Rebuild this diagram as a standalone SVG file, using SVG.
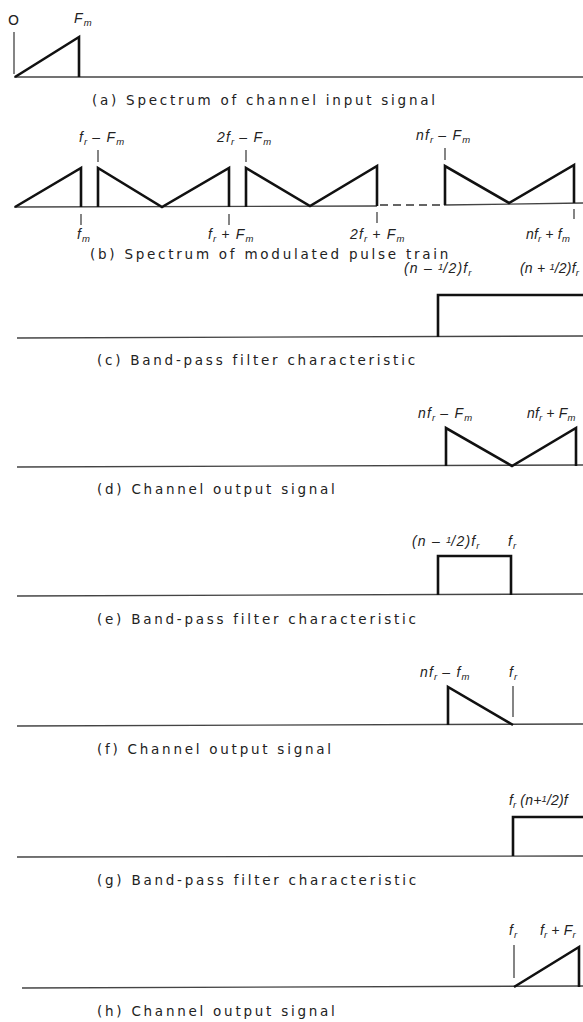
<svg xmlns="http://www.w3.org/2000/svg" width="583" height="1022" viewBox="0 0 583 1022">
<style>
.base{stroke:#444;stroke-width:1.3;fill:none}
.shape{stroke:#111;stroke-width:2.6;fill:none;stroke-linejoin:miter}
.tick{stroke:#333;stroke-width:1.2;fill:none}
.dash{stroke:#333;stroke-width:1.3;stroke-dasharray:8,5;fill:none}
.cap{font-family:"DejaVu Sans",sans-serif;font-size:13.5px;letter-spacing:2.75px;fill:#222}
.lab{font-family:"Liberation Sans",sans-serif;font-style:italic;font-size:14px;letter-spacing:1.2px;fill:#222}
.edge{letter-spacing:0.2px}
.sub{font-size:9.5px;letter-spacing:0}
</style>
<rect width="583" height="1022" fill="#fff"/>

<g id="panel-a">
<line class="base" x1="14" y1="77" x2="583" y2="77"/>
<line class="tick" x1="14" y1="32" x2="14" y2="74"/>
<path class="shape" d="M15,77 L79,37 L79,77"/>
<text x="8" y="25" style="font-family:'DejaVu Sans',sans-serif;font-size:14px;fill:#222">O</text>
<text class="lab" x="74" y="23">F<tspan class="sub" dy="3">m</tspan></text>
<text class="cap" x="92" y="105">(a) Spectrum of channel input signal</text>
</g>

<g id="panel-b">
<line class="base" x1="14" y1="207" x2="377" y2="206"/>
<line class="dash" x1="380" y1="205" x2="442" y2="205"/>
<line class="base" x1="444" y1="205" x2="583" y2="203"/>
<path class="shape" d="M15,207 L81,168 L81,207"/>
<path class="shape" d="M98,207 L98,168 L162,207 L229,168 L229,207"/>
<path class="shape" d="M246,207 L246,168 L310,206 L377,166 L377,206"/>
<path class="shape" d="M445,205 L445,166 L509,203 L574,165 L574,203"/>
<line class="tick" x1="98" y1="150" x2="98" y2="162"/>
<line class="tick" x1="246" y1="150" x2="246" y2="162"/>
<line class="tick" x1="445" y1="148" x2="445" y2="160"/>
<line class="tick" x1="81" y1="214" x2="81" y2="225"/>
<line class="tick" x1="229" y1="214" x2="229" y2="225"/>
<line class="tick" x1="377" y1="212" x2="377" y2="223"/>
<line class="tick" x1="574" y1="209" x2="574" y2="219"/>
<text class="lab" x="79" y="142">f<tspan class="sub" dy="3">r</tspan><tspan dy="-3"> – F</tspan><tspan class="sub" dy="3">m</tspan></text>
<text class="lab" x="217" y="142">2f<tspan class="sub" dy="3">r</tspan><tspan dy="-3"> – F</tspan><tspan class="sub" dy="3">m</tspan></text>
<text class="lab" x="416" y="140">nf<tspan class="sub" dy="3">r</tspan><tspan dy="-3"> – F</tspan><tspan class="sub" dy="3">m</tspan></text>
<text class="lab" x="77" y="239">f<tspan class="sub" dy="3">m</tspan></text>
<text class="lab" x="208" y="239">f<tspan class="sub" dy="3">r</tspan><tspan dy="-3"> + F</tspan><tspan class="sub" dy="3">m</tspan></text>
<text class="lab" x="350" y="239">2f<tspan class="sub" dy="3">r</tspan><tspan dy="-3"> + F</tspan><tspan class="sub" dy="3">m</tspan></text>
<text class="lab edge" x="526" y="239">nf<tspan class="sub" dy="3">r</tspan><tspan dy="-3"> + f</tspan><tspan class="sub" dy="3">m</tspan></text>
<text class="cap" x="90" y="259">(b) Spectrum of modulated pulse train</text>
</g>

<g id="panel-c">
<line class="base" x1="17" y1="338" x2="583" y2="336"/>
<path class="shape" d="M438,337 L438,295 L583,295"/>
<text class="lab" x="404" y="273">(n – <tspan class="sub" dy="-3">1</tspan><tspan dy="3">/2)f</tspan><tspan class="sub" dy="3">r</tspan></text>
<text class="lab edge" x="520" y="273">(n + <tspan class="sub" dy="-3">1</tspan><tspan dy="3">/2)f</tspan><tspan class="sub" dy="3">r</tspan></text>
<text class="cap" x="97" y="365">(c) Band-pass filter characteristic</text>
</g>

<g id="panel-d">
<line class="base" x1="17" y1="467" x2="583" y2="465"/>
<path class="shape" d="M446,466 L446,428 L512,466 L576,428 L576,466"/>
<text class="lab" x="418" y="418">nf<tspan class="sub" dy="3">r</tspan><tspan dy="-3"> – F</tspan><tspan class="sub" dy="3">m</tspan></text>
<text class="lab edge" x="527" y="418">nf<tspan class="sub" dy="3">r</tspan><tspan dy="-3"> + F</tspan><tspan class="sub" dy="3">m</tspan></text>
<text class="cap" x="97" y="494">(d) Channel output signal</text>
</g>

<g id="panel-e">
<line class="base" x1="17" y1="596" x2="583" y2="594"/>
<path class="shape" d="M438,595 L438,556 L511,556 L511,595"/>
<text class="lab" x="412" y="546">(n – <tspan class="sub" dy="-3">1</tspan><tspan dy="3">/2)f</tspan><tspan class="sub" dy="3">r</tspan></text>
<text class="lab" x="508" y="546">f<tspan class="sub" dy="3">r</tspan></text>
<text class="cap" x="97" y="624">(e) Band-pass filter characteristic</text>
</g>

<g id="panel-f">
<line class="base" x1="17" y1="726" x2="583" y2="724"/>
<path class="shape" d="M448,725 L448,687 L513,725"/>
<line class="tick" x1="513" y1="686" x2="513" y2="717"/>
<text class="lab" x="420" y="677">nf<tspan class="sub" dy="3">r</tspan><tspan dy="-3"> – f</tspan><tspan class="sub" dy="3">m</tspan></text>
<text class="lab" x="509" y="677">f<tspan class="sub" dy="3">r</tspan></text>
<text class="cap" x="97" y="754">(f) Channel output signal</text>
</g>

<g id="panel-g">
<line class="base" x1="17" y1="857" x2="583" y2="856"/>
<path class="shape" d="M513,856 L513,817 L583,817"/>
<text class="lab edge" x="509" y="805">f<tspan class="sub" dy="3">r</tspan><tspan dy="-3"> (n+</tspan><tspan class="sub" dy="-3">1</tspan><tspan dy="3">/2)f</tspan></text>
<text class="cap" x="97" y="885">(g) Band-pass filter characteristic</text>
</g>

<g id="panel-h">
<line class="base" x1="22" y1="988" x2="583" y2="986"/>
<path class="shape" d="M514,987 L579,947 L579,987"/>
<line class="tick" x1="514" y1="945" x2="514" y2="978"/>
<text class="lab" x="509" y="935">f<tspan class="sub" dy="3">r</tspan></text>
<text class="lab edge" x="540" y="935">f<tspan class="sub" dy="3">r</tspan><tspan dy="-3"> + F</tspan><tspan class="sub" dy="3">r</tspan></text>
<text class="cap" x="97" y="1016">(h) Channel output signal</text>
</g>
</svg>
